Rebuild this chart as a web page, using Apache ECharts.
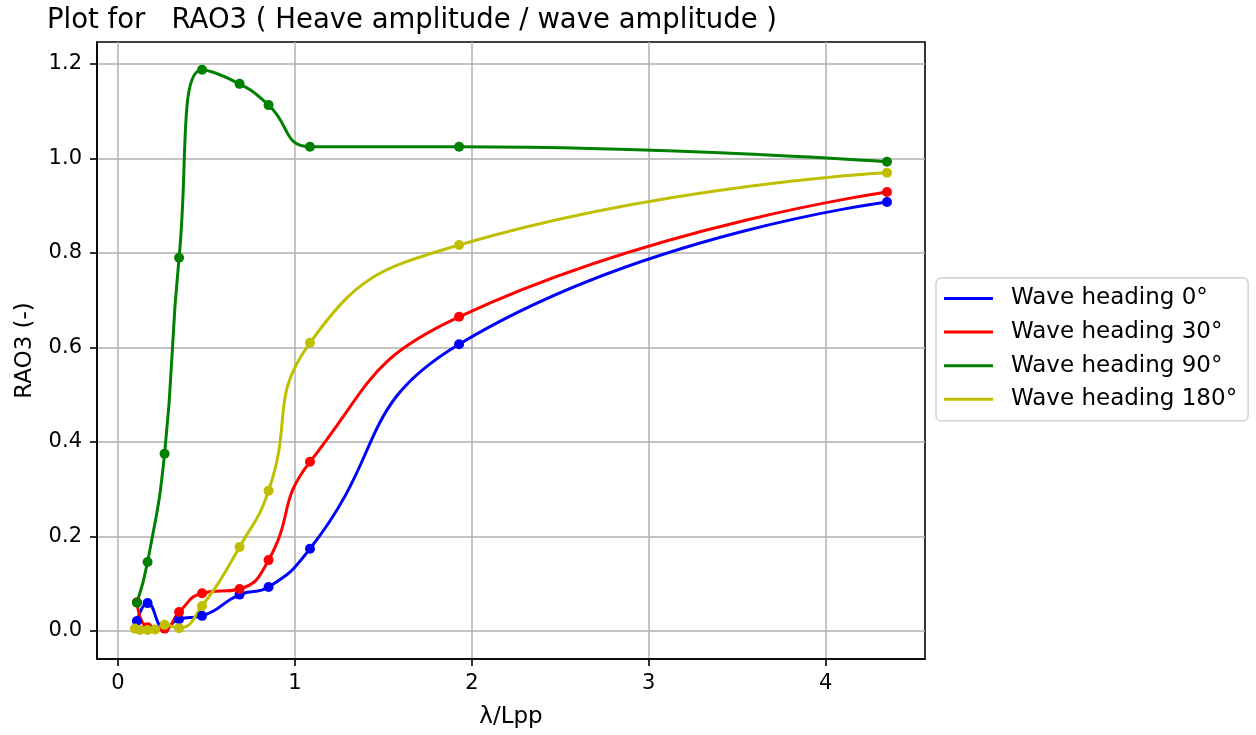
<!DOCTYPE html>
<html>
<head>
<meta charset="utf-8">
<script src="https://cdn.jsdelivr.net/npm/echarts@6/dist/echarts.min.js"></script>
<style>
html,body{margin:0;padding:0;background:#fff;}
#chart{width:1256px;height:735px;}
</style>
</head>
<body>
<div id="chart"></div>
<script>
var titleText = 'Plot for   RAO3 ( Heave amplitude / wave amplitude )';
var xName = 'λ/Lpp';
var yName = 'RAO3 (-)';
var seriesNames = ['Wave heading 0°', 'Wave heading 30°', 'Wave heading 90°', 'Wave heading 180°'];
var seriesColors = ['#0000ff', '#ff0000', '#008000', '#bfbf00'];
var xTicks = [0, 1, 2, 3, 4];
var yTicks = [0, 0.2, 0.4, 0.6, 0.8, 1.0, 1.2];

var xHead0 = [0.107, 0.167, 0.263, 0.345, 0.475, 0.687, 0.851, 1.085, 1.928, 4.347];
var yHead0 = [0.021, 0.059, 0.006, 0.025, 0.032, 0.077, 0.093, 0.174, 0.607, 0.908];

var xHead30 = [0.107, 0.167, 0.263, 0.345, 0.475, 0.687, 0.851, 1.085, 1.928, 4.347];
var yHead30 = [0.061, 0.008, 0.005, 0.040, 0.080, 0.089, 0.150, 0.358, 0.665, 0.929];

var xHead90 = [0.107, 0.167, 0.263, 0.345, 0.475, 0.687, 0.851, 1.085, 1.928, 4.347];
var yHead90 = [0.060, 0.146, 0.375, 0.790, 1.188, 1.158, 1.113, 1.025, 1.025, 0.993];

var xHead180 = [0.095, 0.124, 0.167, 0.210, 0.263, 0.345, 0.475, 0.687, 0.851, 1.085, 1.928, 4.347];
var yHead180 = [0.005, 0.002, 0.002, 0.003, 0.013, 0.006, 0.053, 0.178, 0.297, 0.610, 0.817, 0.970];

var xs = [xHead0, xHead30, xHead90, xHead180];
var ys = [yHead0, yHead30, yHead90, yHead180];

function pairs(a, b) { return a.map(function (v, i) { return [v, b[i]]; }); }

var chart = echarts.init(document.getElementById('chart'), null, {renderer: 'canvas'});
var font = 'DejaVu Sans';
var series = seriesNames.map(function (n, i) {
  return {
    name: n,
    type: 'line',
    data: pairs(xs[i], ys[i]),
    smooth: 0.5,
    symbol: 'circle',
    symbolSize: 10,
    showSymbol: true,
    color: seriesColors[i],
    lineStyle: {width: 3, color: seriesColors[i]},
    itemStyle: {color: seriesColors[i]},
    emphasis: {disabled: true},
    animation: false
  };
});

chart.setOption({
  animation: false,
  title: {
    text: titleText,
    left: 42, top: 2,
    textStyle: {fontFamily: font, fontSize: 27.5, fontWeight: 'normal', color: '#000'}
  },
  grid: {
    left: 97, right: 331, top: 42, bottom: 76,
    show: true, borderColor: '#000', borderWidth: 1.6, backgroundColor: 'transparent'
  },
  legend: {
    orient: 'vertical',
    left: 936, top: 278,
    icon: 'rect',
    itemWidth: 49, itemHeight: 3,
    itemGap: 10.6,
    padding: [9, 11, 10, 8],
    borderColor: '#cccccc', borderWidth: 1.3, borderRadius: 5,
    backgroundColor: '#fff',
    textStyle: {fontFamily: font, fontSize: 23, color: '#000', padding: [0, 0, 0, 13], lineHeight: 23},
    data: seriesNames
  },
  xAxis: {
    type: 'value',
    min: -0.119, max: 4.562,
    name: xName, nameLocation: 'middle', nameGap: 47,
    nameTextStyle: {fontFamily: font, fontSize: 23, color: '#000'},
    axisLine: {show: true, onZero: false, lineStyle: {color: '#000', width: 1.6}},
    axisTick: {show: true, length: 7, lineStyle: {color: '#000', width: 1.6}, customValues: xTicks},
    axisLabel: {customValues: xTicks, fontFamily: font, fontSize: 21, color: '#000', margin: 14,
      formatter: function (v) { return String(v); }},
    splitLine: {show: true, lineStyle: {color: '#b0b0b0', width: 1.5}}
  },
  yAxis: {
    type: 'value',
    min: -0.0593, max: 1.2466,
    name: yName, nameLocation: 'middle', nameGap: 60,
    nameTextStyle: {fontFamily: font, fontSize: 23, color: '#000'},
    axisLine: {show: true, onZero: false, lineStyle: {color: '#000', width: 1.6}},
    axisTick: {show: true, length: 7, lineStyle: {color: '#000', width: 1.6}, customValues: yTicks},
    axisLabel: {customValues: yTicks, fontFamily: font, fontSize: 21, color: '#000', margin: 15,
      formatter: function (v) { return v.toFixed(1); }},
    splitLine: {show: true, lineStyle: {color: '#b0b0b0', width: 1.5}}
  },
  series: series
});
</script>
</body>
</html>
